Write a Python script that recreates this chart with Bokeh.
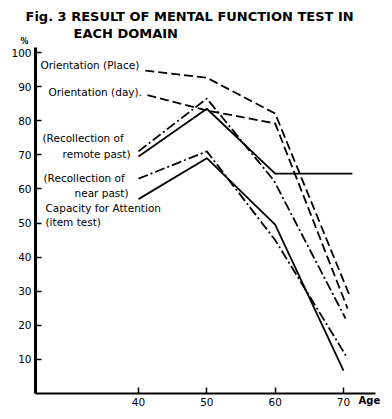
from bokeh.plotting import figure
from bokeh.models import Range1d, FixedTicker, Label, LinearAxis
from bokeh.embed import file_html
from bokeh.resources import INLINE

# ---- data ----
ages_place = [41, 50, 60, 71]
place = [94.7, 92.6, 82.1, 28.2]

ages_day = [41.3, 50, 60, 70.6]
day = [87.5, 83.0, 79.2, 24.9]

ages_remote_a = [40, 50, 59.8, 70.3]
remote_a = [71.0, 86.5, 62.5, 22.0]

ages_remote_b = [40, 50, 60, 71.3]
remote_b = [69.5, 83.5, 64.5, 64.5]

ages_near = [40, 50, 60, 70.6]
near = [63.0, 71.0, 45.0, 10.3]

ages_attn = [40, 50, 60, 70]
attention = [57.0, 69.0, 49.5, 6.7]

x_ticks = [40, 50, 60, 70]
y_ticks = [10, 20, 30, 40, 50, 60, 70, 80, 90, 100]

# ---- layout (pixel geometry of the page) ----
W, H = 392, 419
AGE40_PX, PX_PER_YEAR = 138.0, 6.833
ZERO_PX, PX_PER_PCT = 393.0, 3.41

def X(px):
    return 40 + (px - AGE40_PX) / PX_PER_YEAR

def Y(py):
    return (ZERO_PX - py) / PX_PER_PCT

FONT = "DejaVu Sans"

p = figure(width=W, height=H, output_backend="svg", toolbar_location=None,
           x_range=Range1d(X(0), X(W)), y_range=Range1d(Y(H), Y(0)),
           x_axis_location=None, y_axis_location=None,
           min_border=0, min_border_left=0, min_border_right=0,
           min_border_top=0, min_border_bottom=0)
p.outline_line_color = None
p.xgrid.visible = False
p.ygrid.visible = False
p.background_fill_color = "white"

xaxis = LinearAxis(fixed_location=0, bounds=(X(35), X(375)),
                   ticker=FixedTicker(ticks=x_ticks))
yaxis = LinearAxis(fixed_location=X(35), bounds=(0, Y(47)),
                   ticker=FixedTicker(ticks=y_ticks))
for ax in (xaxis, yaxis):
    ax.major_tick_in = 6
    ax.major_tick_out = 0
    ax.minor_tick_line_color = None
    ax.major_tick_line_width = 1.5
    ax.axis_line_color = "black"
    ax.major_tick_line_color = "black"
    ax.major_label_text_font = FONT
    ax.major_label_text_font_size = "10.5px"
    ax.major_label_text_color = "black"
    ax.major_label_standoff = 4
xaxis.axis_line_width = 2
yaxis.axis_line_width = 3
p.add_layout(xaxis, "below")
p.add_layout(yaxis, "left")

lw = 1.8
p.line(ages_place, place, line_color="black", line_width=lw, line_dash="9 4")
p.line(ages_day, day, line_color="black", line_width=lw, line_dash="9 4")
p.line(ages_remote_a, remote_a, line_color="black", line_width=lw, line_dash="10 3 2 3")
p.line(ages_remote_b, remote_b, line_color="black", line_width=lw)
p.line(ages_near, near, line_color="black", line_width=lw, line_dash="10 3 2 3")
p.line(ages_attn, attention, line_color="black", line_width=lw)

def lab(px, py, t, size="10.5px", align="left", bold=False):
    p.add_layout(Label(x=X(px), y=Y(py), text=t, text_font=FONT, text_font_size=size,
                       text_align=align, text_baseline="middle", text_color="black",
                       text_font_style="bold" if bold else "normal"))

lab(40, 64, "Orientation (Place)")
lab(48, 91, "Orientation (day).")
lab(42, 137, "(Recollection of")
lab(130, 153, "remote past)", align="right")
lab(43, 177, "(Recollection of")
lab(128, 192, "near past)", align="right")
lab(45, 207, "Capacity for Attention")
lab(45, 221, "(item test)")

lab(25, 15.5, "Fig. 3 RESULT OF MENTAL FUNCTION TEST IN", size="13px", bold=True)
lab(73, 33, "EACH DOMAIN", size="13px", bold=True)
lab(20, 41, "%", size="8px", bold=True)
lab(358, 400, "Age", size="10px", bold=True)

open("out.html", "w").write(file_html(p, INLINE))
